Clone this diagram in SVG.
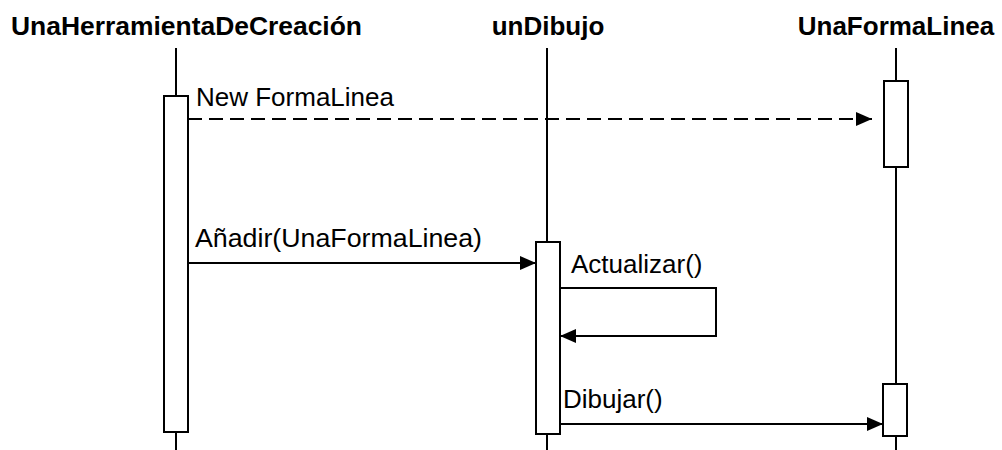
<svg xmlns="http://www.w3.org/2000/svg" width="1002" height="450" viewBox="0 0 1002 450">
  <style>
    .title { font-family: "Liberation Sans", Arial, sans-serif; font-size: 26px; font-weight: bold; fill: #000; }
    .msg { font-family: "Liberation Sans", Arial, sans-serif; font-size: 26px; fill: #000; }
    .life { stroke: #000; stroke-width: 2; fill: none; }
    .act { stroke: #000; stroke-width: 2; fill: #fff; }
    .call { stroke: #000; stroke-width: 2; fill: none; marker-end: url(#head); }
    .create { stroke-dasharray: 14 7; }
  </style>
  <defs>
    <marker id="head" markerUnits="userSpaceOnUse" markerWidth="16" markerHeight="14" refX="16" refY="7" orient="auto">
      <path d="M0,0 L16,7 L0,14 Z" fill="#000"/>
    </marker>
  </defs>
  <rect width="1002" height="450" fill="#fff"/>

  <!-- tool object -->
  <g id="herramienta">
    <text class="title" x="11" y="35" textLength="351" lengthAdjust="spacingAndGlyphs">UnaHerramientaDeCreación</text>
    <line class="life" x1="176" y1="48" x2="176" y2="450"/>
    <rect class="act" x="164" y="96" width="24" height="336"/>
  </g>

  <!-- drawing object -->
  <g id="dibujo">
    <text class="title" x="548" y="35" text-anchor="middle">unDibujo</text>
    <line class="life" x1="547" y1="48" x2="547" y2="450"/>
    <rect class="act" x="536" y="242" width="24" height="192"/>
  </g>

  <!-- line shape object -->
  <g id="formalinea">
    <text class="title" x="896" y="35" text-anchor="middle">UnaFormaLinea</text>
    <line class="life" x1="896" y1="48" x2="896" y2="450"/>
    <rect class="act" x="884" y="81" width="24" height="86"/>
    <rect class="act" x="883" y="384" width="24" height="52"/>
  </g>

  <!-- messages -->
  <g id="connectors">
    <line class="call create" x1="188" y1="119" x2="872" y2="119"/>
    <text class="msg" x="196" y="106">New FormaLinea</text>

    <line class="call" x1="188" y1="263" x2="536" y2="263"/>
    <text class="msg" x="195" y="247" textLength="287" lengthAdjust="spacingAndGlyphs">Añadir(UnaFormaLinea)</text>

    <polyline class="call" points="560,288 716,288 716,336 560,336"/>
    <text class="msg" x="571" y="273">Actualizar()</text>

    <line class="call" x1="560" y1="424" x2="883" y2="424"/>
    <text class="msg" x="563" y="408">Dibujar()</text>
  </g>
</svg>
